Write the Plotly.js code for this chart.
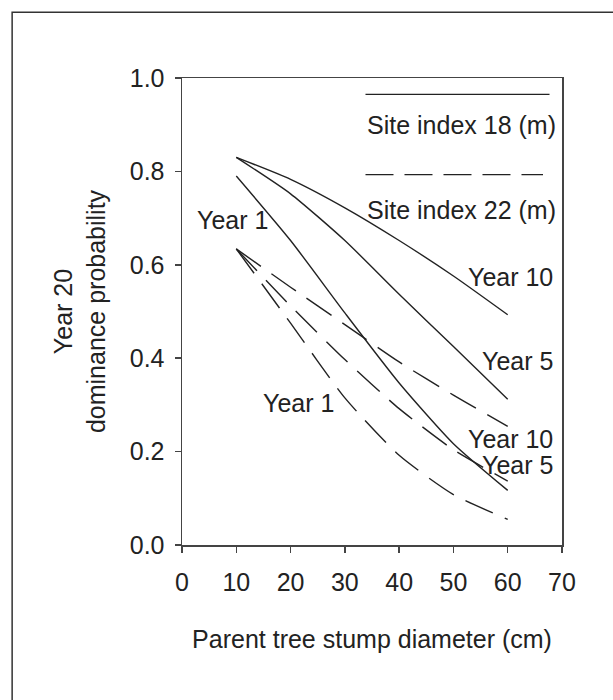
<!DOCTYPE html>
<html>
<head>
<meta charset="utf-8">
<script src="https://cdn.plot.ly/plotly-3.0.1.min.js"></script>
<style>
  html, body { margin: 0; padding: 0; background: #fff; }
  #chart { width: 613px; height: 700px; }
</style>
</head>
<body>
<div id="chart"></div>
<script>
// Stump diameter (cm)
const diameters = [10, 20, 30, 40, 50, 60];

// Site index 18 (m) — solid lines
const si18_year10 = [0.830, 0.783, 0.722, 0.652, 0.576, 0.493];
const si18_year5  = [0.830, 0.752, 0.652, 0.537, 0.425, 0.312];
const si18_year1  = [0.790, 0.652, 0.497, 0.347, 0.217, 0.117];

// Site index 22 (m) — dashed lines
const si22_year10 = [0.634, 0.552, 0.472, 0.392, 0.321, 0.254];
const si22_year5  = [0.634, 0.512, 0.397, 0.292, 0.204, 0.137];
const si22_year1  = [0.634, 0.475, 0.315, 0.192, 0.108, 0.055];

const xTicks = [0, 10, 20, 30, 40, 50, 60, 70];
const yTicks = [0.0, 0.2, 0.4, 0.6, 0.8, 1.0];
const yTickText = ["0.0", "0.2", "0.4", "0.6", "0.8", "1.0"];

const legendLabels = ["Site index 18 (m)", "Site index 22 (m)"];

// Curve labels: [text, x, y, xanchor]
const curveLabels = [
  ["Year 1", 9.36, 0.697, "center"],
  ["Year 1", 21.5, 0.305, "center"],
  ["Year 10", 68.8, 0.573, "right"],
  ["Year 5", 68.8, 0.393, "right"],
  ["Year 10", 68.8, 0.226, "right"],
  ["Year 5", 68.8, 0.172, "right"]
];

const FONT = "Liberation Sans, Arial, sans-serif";
const FS = 25;
const INK = "#222222";
const solid = { color: INK, width: 1.4, shape: "spline", smoothing: 0.6 };
const dashed = { color: INK, width: 1.4, shape: "spline", smoothing: 0.6, dash: "30px,13px" };

function tr(y, line) {
  return { x: diameters, y: y, type: "scatter", mode: "lines", line: line, showlegend: false, hoverinfo: "skip" };
}

const data = [
  tr(si18_year10, solid),
  tr(si18_year5, solid),
  tr(si18_year1, solid),
  tr(si22_year10, dashed),
  tr(si22_year5, dashed),
  tr(si22_year1, dashed)
];

const annotations = curveLabels.map(c => ({
  text: c[0], x: c[1], y: c[2], xref: "x", yref: "y",
  xanchor: c[3], yanchor: "middle", showarrow: false,
  font: { family: FONT, size: FS, color: INK }
}));
annotations.push(
  { text: legendLabels[0], x: 33.8, y: 0.900, xref: "x", yref: "y", xanchor: "left", yanchor: "middle",
    showarrow: false, font: { family: FONT, size: FS, color: INK } },
  { text: legendLabels[1], x: 33.8, y: 0.718, xref: "x", yref: "y", xanchor: "left", yanchor: "middle",
    showarrow: false, font: { family: FONT, size: FS, color: INK } }
);

const shapes = [
  { type: "line", xref: "x", yref: "y", x0: 33.8, x1: 67.7, y0: 0.965, y1: 0.965,
    line: { color: INK, width: 1.4 } },
  { type: "line", xref: "x", yref: "y", x0: 33.8, x1: 66.5, y0: 0.793, y1: 0.793,
    line: { color: INK, width: 1.4, dash: "28px,11px" } },
  // outer figure frame (extends past the right and bottom edges)
  { type: "rect", xref: "paper", yref: "paper", x0: -0.447, x1: 2, y0: -1, y1: 1.141,
    line: { color: "#333333", width: 1.5 }, fillcolor: "rgba(0,0,0,0)", layer: "below" }
];

const layout = {
  width: 613, height: 700,
  margin: { l: 182, r: 51, t: 78, b: 155, pad: 0 },
  paper_bgcolor: "#ffffff", plot_bgcolor: "#ffffff",
  font: { family: FONT, size: FS, color: INK },
  showlegend: false,
  xaxis: {
    range: [0, 70], tickvals: xTicks, ticktext: xTicks.map(String),
    ticks: "outside", ticklen: 6, tickwidth: 1.5, tickcolor: "#444",
    showline: true, linecolor: "#444", linewidth: 1.5, mirror: true,
    showgrid: false, zeroline: false, ticklabelstandoff: 8,
    tickfont: { family: FONT, size: FS, color: INK },
    title: { text: "Parent tree stump diameter (cm)", font: { family: FONT, size: FS, color: INK }, standoff: 36 }
  },
  yaxis: {
    range: [0, 1], tickvals: yTicks, ticktext: yTickText,
    ticks: "outside", ticklen: 6, tickwidth: 1.5, tickcolor: "#444",
    showline: true, linecolor: "#444", linewidth: 1.5, mirror: true,
    showgrid: false, zeroline: false, ticklabelstandoff: 5,
    tickfont: { family: FONT, size: FS, color: INK },
    title: { text: "Year 20<br>dominance probability", font: { family: FONT, size: FS, color: INK }, standoff: 17 }
  },
  annotations: annotations,
  shapes: shapes
};

Plotly.newPlot("chart", data, layout, { staticPlot: true, displayModeBar: false });
</script>
</body>
</html>
